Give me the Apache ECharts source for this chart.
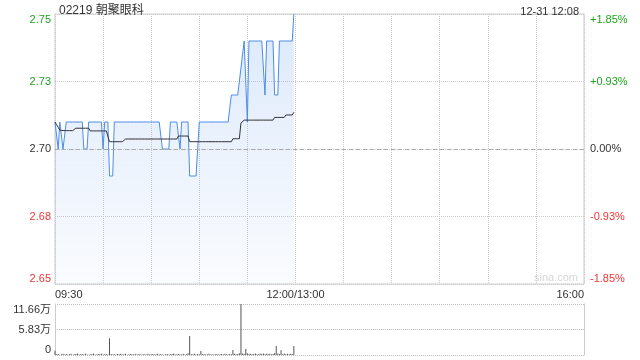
<!DOCTYPE html>
<html>
<head>
<meta charset="utf-8">
<script src="https://cdn.jsdelivr.net/npm/echarts@6/dist/echarts.min.js"></script>
<style>html,body{margin:0;padding:0;background:#fff}#c{width:640px;height:360px}</style>
</head>
<body>
<div id="c"></div>
<script>
const titleText = '02219 朝聚眼科';
const timeText = '12-31 12:08';
const watermark = 'sina.com';
const prevClose = 2.70;
const priceTicks = ['2.65', '2.68', '2.70', '2.73', '2.75'];
const pctTicks = ['-1.85%', '-0.93%', '0.00%', '+0.93%', '+1.85%'];
const volTicks = ['0', '5.83万', '11.66万'];
const timeLabels = ['09:30', '12:00/13:00', '16:00'];
const labelMinutes = [0, 150, 330];

// one value per trading minute from 09:30
const price = [
  2.71, 2.71, 2.70, 2.71, 2.71, 2.70, 2.70,
  2.71, 2.71, 2.71, 2.71, 2.71, 2.71, 2.71, 2.71, 2.71, 2.71, 2.71,
  2.70, 2.70, 2.70,
  2.71, 2.71, 2.71, 2.71, 2.71, 2.71, 2.71, 2.71, 2.71,
  2.70, 2.71, 2.71, 2.71,
  2.69, 2.69, 2.69,
  2.71, 2.71, 2.71, 2.71, 2.71, 2.71, 2.71, 2.71, 2.71, 2.71,
  2.71, 2.71, 2.71, 2.71, 2.71, 2.71, 2.71, 2.71, 2.71, 2.71,
  2.71, 2.71, 2.71, 2.71, 2.71, 2.71, 2.71, 2.71, 2.71, 2.71,
  2.70, 2.70, 2.70, 2.70, 2.70,
  2.71, 2.71, 2.71, 2.71, 2.71, 2.71,
  2.70,
  2.71, 2.71, 2.71, 2.71, 2.71,
  2.69, 2.69, 2.69, 2.69, 2.69, 2.69,
  2.71, 2.71, 2.71, 2.71, 2.71, 2.71, 2.71, 2.71, 2.71, 2.71,
  2.71, 2.71, 2.71, 2.71, 2.71, 2.71, 2.71, 2.71, 2.71, 2.71,
  2.72, 2.72, 2.72, 2.72, 2.72, 2.72,
  2.73, 2.73, 2.74, 2.74, 2.71,
  2.74, 2.74, 2.74, 2.74, 2.74, 2.74, 2.74, 2.74, 2.74, 2.74,
  2.72, 2.74, 2.74, 2.74, 2.74, 2.74,
  2.72, 2.72, 2.72,
  2.74, 2.74, 2.74, 2.74, 2.74, 2.74, 2.74, 2.74, 2.74,
  2.75
];

const avgPrice = [
  2.710, 2.709, 2.708, 2.707,
  2.7068, 2.7068, 2.7068, 2.7068, 2.7068, 2.7068, 2.7068, 2.7068, 2.7068,
  2.7077, 2.7077, 2.7077, 2.7077, 2.7077, 2.7077, 2.7077, 2.7077, 2.7077,
  2.7067, 2.7067, 2.7067, 2.7067, 2.7067, 2.7067, 2.7067, 2.7067, 2.7067, 2.7067, 2.7067, 2.7067,
  2.7027, 2.7027, 2.7027, 2.7027, 2.7027, 2.7027, 2.7027, 2.7027, 2.7027, 2.7027,
  2.7037, 2.7037, 2.7037, 2.7037, 2.7037, 2.7037, 2.7037, 2.7037, 2.7037, 2.7037, 2.7037,
  2.7037, 2.7037, 2.7037, 2.7037, 2.7037, 2.7037, 2.7037, 2.7037, 2.7037, 2.7037, 2.7037,
  2.7037, 2.7037, 2.7037, 2.7037, 2.7037, 2.7037, 2.7037, 2.7037, 2.7037, 2.7037, 2.7037,
  2.7048, 2.7048, 2.7048, 2.7048, 2.7048, 2.7048, 2.7048,
  2.7027, 2.7027, 2.7027, 2.7027, 2.7027, 2.7027, 2.7027, 2.7027, 2.7027,
  2.7027, 2.7027, 2.7027, 2.7027, 2.7027, 2.7027, 2.7027, 2.7027, 2.7027,
  2.7027, 2.7027, 2.7027, 2.7027, 2.7027, 2.7027, 2.7027, 2.7027, 2.7027,
  2.7038, 2.7038, 2.7038, 2.7038, 2.7038,
  2.7096, 2.7100,
  2.7107, 2.7107, 2.7107, 2.7107, 2.7107, 2.7107, 2.7107, 2.7107, 2.7107, 2.7107,
  2.7107, 2.7107, 2.7107, 2.7107, 2.7107, 2.7107, 2.7107, 2.7107, 2.7107,
  2.7117, 2.7117, 2.7117, 2.7117, 2.7117, 2.7117, 2.7117,
  2.7126, 2.7126, 2.7126, 2.7126, 2.7126,
  2.7136
];

const volume = [
  10000,
  1500, 2200, 800, 1800, 3000, 1200, 2500, 1000, 1900, 2600, 700, 1500, 2100, 3200, 900, 1700, 2400,
  1100, 2800, 1300, 600, 2000, 1600, 3400, 1200, 900, 2300, 1800, 2700, 1000, 1500, 2200, 1300,
  38500,
  2500, 1200, 1800, 900, 2200, 1500, 3000, 1100, 1700, 2600, 800, 1400, 2100, 1900, 1200, 2800, 1000,
  1600, 2300, 700, 1500, 2000, 1300, 2700, 900, 1800, 2400, 1100, 1600, 3100, 1000, 2200, 1400, 800,
  1900, 2500, 1200, 1700, 2100, 3500, 1000, 1500, 2300, 1800, 900, 2600, 1400, 2000, 4200,
  43500,
  2000, 1500, 3000, 1200, 2500, 1800,
  9000,
  1500, 2200, 1000, 1800, 2600, 1300, 2000, 1100, 1700, 2400, 900, 1500, 2100, 1200, 2800, 1600, 1000, 2300, 1900,
  11500,
  3000, 2000, 2500, 4000,
  116600,
  3500, 2800,
  14000,
  4000, 2500, 3000, 1800, 2200, 3500, 2000, 1500, 2800, 2400, 3200, 1900, 2600, 2100, 3000, 1700, 2500, 3800,
  20500,
  3500, 2500,
  11000,
  2000, 3200, 1500, 2600, 1800, 3000, 2200,
  20500
];

const FONT = '"Liberation Sans", Arial, "Noto Sans CJK SC", sans-serif';
const GREEN = '#1ea51e';
const RED = '#f03535';

const priceMin = 2.65, priceMax = 2.75, priceStep = 0.025;
const volMax = 116600;
const tickIdx = (v) => Math.round((v - priceMin) / priceStep);
const tickColor = (v) => {
  const d = Math.round((v - prevClose) * 10000);
  return d > 0 ? GREEN : (d < 0 ? RED : '#333');
};

const pricePts = price.map((v, i) => [i, v]);
const avgPts = avgPrice.map((v, i) => [i, v]);
const volPts = volume.map((v, i) => [i, v]);

const chart = echarts.init(document.getElementById('c'), null, { renderer: 'canvas' });
chart.setOption({
  animation: false,
  title: [
    { text: titleText, left: 54, top: 0, textStyle: { fontSize: 12, fontWeight: 'normal', color: '#333', fontFamily: FONT } },
    { text: timeText, right: 56, top: 1, textStyle: { fontSize: 11, fontWeight: 'normal', color: '#333', fontFamily: FONT } }
  ],
  graphic: [
    { type: 'text', right: 62, top: 272, silent: true, style: { text: watermark, fill: '#d6d6d6', fontSize: 11, fontFamily: FONT } }
  ],
  grid: [
    { left: 55, right: 56, top: 14, height: 270, show: true, borderColor: '#ccc', borderWidth: 1, backgroundColor: 'transparent' },
    { left: 55, right: 56, top: 304, height: 51 }
  ],
  xAxis: [
    {
      gridIndex: 0, type: 'value', min: 0, max: 330, interval: 30,
      axisLine: { show: false }, axisTick: { show: false },
      splitLine: { show: true, lineStyle: { type: 'dotted', color: '#ccc' } },
      axisLabel: {
        show: true, color: '#333', fontSize: 11, fontFamily: FONT, margin: 5,
        showMinLabel: true, showMaxLabel: true,
        alignMinLabel: 'left', alignMaxLabel: 'right',
        formatter: (v) => { const k = labelMinutes.indexOf(Math.round(v)); return k >= 0 ? timeLabels[k] : ''; }
      }
    },
    {
      gridIndex: 1, type: 'value', min: 0, max: 330, interval: 30,
      axisLine: { show: false }, axisTick: { show: false }, axisLabel: { show: false }, splitLine: { show: false }
    }
  ],
  yAxis: [
    {
      gridIndex: 0, type: 'value', min: priceMin, max: priceMax, interval: priceStep, position: 'left',
      axisLine: { show: false }, axisTick: { show: false },
      splitLine: { show: true, lineStyle: { type: 'dotted', color: '#ccc' } },
      axisLabel: {
        fontSize: 11, fontFamily: FONT, margin: 4,
        verticalAlignMinLabel: 'bottom', verticalAlignMaxLabel: 'top',
        color: (v) => tickColor(v),
        formatter: (v) => priceTicks[tickIdx(v)]
      }
    },
    {
      gridIndex: 0, type: 'value', min: priceMin, max: priceMax, interval: priceStep, position: 'right',
      axisLine: { show: false }, axisTick: { show: false }, splitLine: { show: false },
      axisLabel: {
        fontSize: 11, fontFamily: FONT, margin: 6,
        verticalAlignMinLabel: 'bottom', verticalAlignMaxLabel: 'top',
        color: (v) => tickColor(v),
        formatter: (v) => pctTicks[tickIdx(v)]
      }
    },
    {
      gridIndex: 1, type: 'value', min: 0, max: volMax, interval: volMax / 2, position: 'left',
      axisLine: { show: true, lineStyle: { color: '#ccc' } }, axisTick: { show: false },
      splitLine: { show: true, lineStyle: { type: 'dotted', color: '#bbb' } },
      axisLabel: {
        fontSize: 11, fontFamily: FONT, margin: 4, color: '#333',
        verticalAlignMinLabel: 'bottom', verticalAlignMaxLabel: 'top',
        formatter: (v) => volTicks[Math.round(v / (volMax / 2))]
      }
    },
    {
      gridIndex: 1, type: 'value', min: 0, max: volMax, interval: volMax / 2, position: 'right',
      axisLine: { show: true, lineStyle: { color: '#ccc' } }, axisTick: { show: false },
      splitLine: { show: false }, axisLabel: { show: false }
    }
  ],
  series: [
    {
      name: 'price', type: 'line', xAxisIndex: 0, yAxisIndex: 0, data: pricePts,
      showSymbol: false, symbol: 'none',
      lineStyle: { color: '#4b8de8', width: 1 },
      areaStyle: {
        origin: 'start',
        color: new echarts.graphic.LinearGradient(0, 0, 0, 1, [
          { offset: 0, color: 'rgba(75,141,232,0.28)' },
          { offset: 1, color: 'rgba(75,141,232,0.04)' }
        ])
      },
      markLine: {
        silent: true, symbol: 'none', label: { show: false },
        lineStyle: { color: '#aaa', width: 1, type: [4, 3] },
        data: [{ yAxis: prevClose }]
      },
      z: 3
    },
    {
      name: 'avg', type: 'line', xAxisIndex: 0, yAxisIndex: 0, data: avgPts,
      showSymbol: false, symbol: 'none',
      lineStyle: { color: '#333', width: 1 }, z: 4
    },
    {
      name: 'volume', type: 'bar', xAxisIndex: 1, yAxisIndex: 2, data: volPts,
      barWidth: 1, itemStyle: { color: '#555' }
    }
  ]
});
</script>
</body>
</html>
